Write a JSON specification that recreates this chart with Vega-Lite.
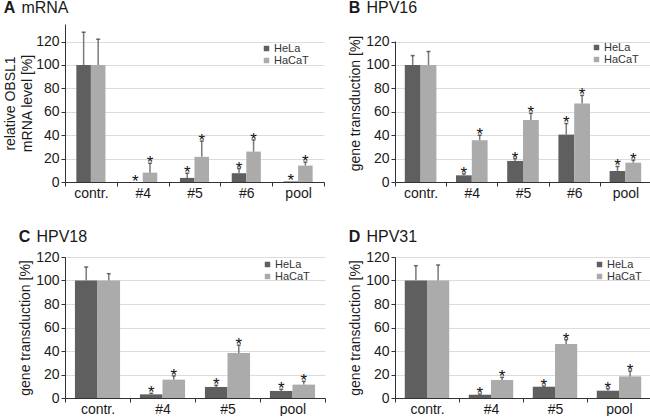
{
  "$schema": "https://vega.github.io/schema/vega-lite/v6.json",
  "background": "white",
  "padding": {"left": 3, "top": 0, "right": 0, "bottom": 0},
  "config": {
    "font": "Liberation Sans",
    "view": {"stroke": null},
    "title": {"anchor": "start", "fontSize": 16, "fontWeight": "bold", "color": "#1a1a1a", "subtitleFontSize": 16, "subtitleColor": "#1a1a1a", "subtitleFontWeight": "normal", "subtitlePadding": -16, "offset": 8}
  },
  "datasets": {
    "A": [
      {"cat": "contr.", "cell": "HeLa", "value": 100, "upper": 128, "star": false},
      {"cat": "contr.", "cell": "HaCaT", "value": 100, "upper": 122, "star": false},
      {"cat": "#4", "cell": "HeLa", "value": 0, "upper": 0, "star": true},
      {"cat": "#4", "cell": "HaCaT", "value": 8, "upper": 16, "star": true},
      {"cat": "#5", "cell": "HeLa", "value": 3.5, "upper": 7.5, "star": true},
      {"cat": "#5", "cell": "HaCaT", "value": 21.5, "upper": 35, "star": true},
      {"cat": "#6", "cell": "HeLa", "value": 7.5, "upper": 11.5, "star": true},
      {"cat": "#6", "cell": "HaCaT", "value": 26, "upper": 36, "star": true},
      {"cat": "pool", "cell": "HeLa", "value": 0.5, "upper": 0.5, "star": true},
      {"cat": "pool", "cell": "HaCaT", "value": 14, "upper": 17, "star": true}
    ],
    "B": [
      {"cat": "contr.", "cell": "HeLa", "value": 100, "upper": 108, "star": false},
      {"cat": "contr.", "cell": "HaCaT", "value": 100, "upper": 111.5, "star": false},
      {"cat": "#4", "cell": "HeLa", "value": 5.7, "upper": 7, "star": true},
      {"cat": "#4", "cell": "HaCaT", "value": 35.7, "upper": 40, "star": true},
      {"cat": "#5", "cell": "HeLa", "value": 18, "upper": 20, "star": true},
      {"cat": "#5", "cell": "HaCaT", "value": 53, "upper": 58.7, "star": true},
      {"cat": "#6", "cell": "HeLa", "value": 40.5, "upper": 50, "star": true},
      {"cat": "#6", "cell": "HaCaT", "value": 67, "upper": 74, "star": true},
      {"cat": "pool", "cell": "HeLa", "value": 9.4, "upper": 13.3, "star": true},
      {"cat": "pool", "cell": "HaCaT", "value": 16.5, "upper": 18.7, "star": true}
    ],
    "C": [
      {"cat": "contr.", "cell": "HeLa", "value": 100, "upper": 111.5, "star": false},
      {"cat": "contr.", "cell": "HaCaT", "value": 100, "upper": 105.8, "star": false},
      {"cat": "#4", "cell": "HeLa", "value": 3.1, "upper": 4, "star": true},
      {"cat": "#4", "cell": "HaCaT", "value": 15.6, "upper": 18.8, "star": true},
      {"cat": "#5", "cell": "HeLa", "value": 9.4, "upper": 10.8, "star": true},
      {"cat": "#5", "cell": "HaCaT", "value": 38.4, "upper": 45, "star": true},
      {"cat": "pool", "cell": "HeLa", "value": 6, "upper": 7.4, "star": true},
      {"cat": "pool", "cell": "HaCaT", "value": 11.4, "upper": 14.2, "star": true}
    ],
    "D": [
      {"cat": "contr.", "cell": "HeLa", "value": 100, "upper": 112.6, "star": false},
      {"cat": "contr.", "cell": "HaCaT", "value": 100, "upper": 113.2, "star": false},
      {"cat": "#4", "cell": "HeLa", "value": 2.8, "upper": 3.4, "star": true},
      {"cat": "#4", "cell": "HaCaT", "value": 15.3, "upper": 17.6, "star": true},
      {"cat": "#5", "cell": "HeLa", "value": 9.6, "upper": 10.2, "star": true},
      {"cat": "#5", "cell": "HaCaT", "value": 46, "upper": 49.6, "star": true},
      {"cat": "pool", "cell": "HeLa", "value": 6.2, "upper": 7.9, "star": true},
      {"cat": "pool", "cell": "HaCaT", "value": 18.4, "upper": 23, "star": true}
    ]
  },
  "columns": 2,
  "spacing": {"row": 29, "column": 22},
  "resolve": {"scale": {"color": "independent", "x": "independent", "y": "independent", "xOffset": "independent"}},
  "concat": [
    {
      "width": 259, "height": 158,
      "title": {"text": "A", "subtitle": "\u200b\u00a0\u00a0\u00a0\u00a0mRNA"},
      "data": {"name": "A"},
      "encoding": {
        "x": {"field": "cat", "type": "nominal", "scale": {"domain": ["contr.", "#4", "#5", "#6", "pool"], "paddingInner": 0, "paddingOuter": 0}, "axis": {"title": null, "labelAngle": 0, "tickBand": "extent", "tickSize": 4, "labelPadding": 0, "grid": false, "labelFontSize": 14, "labelColor": "#1a1a1a", "domainColor": "#333333", "tickColor": "#333333"}},
        "xOffset": {"field": "cell", "type": "nominal", "scale": {"domain": ["HeLa", "HaCaT"], "paddingInner": 0, "paddingOuter": 0.78}},
        "y": {"field": "value", "type": "quantitative", "stack": null, "scale": {"domain": [0, 135], "nice": false}, "axis": {"values": [0, 20, 40, 60, 80, 100, 120], "labelOverlap": false, "labelFontSize": 14, "titleFontSize": 14, "titleFontWeight": "normal", "labelColor": "#1a1a1a", "titleColor": "#1a1a1a", "domainColor": "#333333", "tickColor": "#333333", "grid": true, "gridColor": "#dcdcdc", "tickSize": 4, "labelPadding": 2, "title": ["relative OBSL1", "mRNA level [%]"], "titlePadding": 1, "titleLineHeight": 17}}
      },
      "layer": [
        {"mark": {"type": "bar"}, "encoding": {
          "color": {"field": "cell", "type": "nominal", "scale": {"domain": ["HeLa", "HaCaT"], "range": ["#5f5f5f", "#ababab"]}, "legend": {"orient": "none", "legendX": 196, "legendY": 19, "title": null, "symbolType": "square", "symbolSize": 30, "rowPadding": 0, "symbolStrokeWidth": 0, "labelOffset": 2, "padding": 0, "labelFontSize": 11, "labelColor": "#333333"}}
        }},
        {"transform": [{"filter": "datum.upper > datum.value"}], "mark": {"type": "rule", "color": "#7a7a7a", "strokeWidth": 1.5}, "encoding": {"y2": {"field": "upper"}}},
        {"transform": [{"filter": "datum.upper > datum.value"}], "mark": {"type": "tick", "color": "#333333", "size": 4, "thickness": 1.5}, "encoding": {"y": {"field": "upper", "type": "quantitative", "axis": {"values": [0, 20, 40, 60, 80, 100, 120], "labelOverlap": false, "labelFontSize": 14, "titleFontSize": 14, "titleFontWeight": "normal", "labelColor": "#1a1a1a", "titleColor": "#1a1a1a", "domainColor": "#333333", "tickColor": "#333333", "grid": true, "gridColor": "#dcdcdc", "tickSize": 4, "labelPadding": 2, "title": ["relative OBSL1", "mRNA level [%]"], "titlePadding": 1, "titleLineHeight": 17}}}},
        {"transform": [{"filter": "datum.star"}], "mark": {"type": "text", "text": "*", "fontSize": 17, "dy": 5, "baseline": "alphabetic", "color": "#111111"}, "encoding": {"y": {"field": "upper", "type": "quantitative", "axis": {"values": [0, 20, 40, 60, 80, 100, 120], "labelOverlap": false, "labelFontSize": 14, "titleFontSize": 14, "titleFontWeight": "normal", "labelColor": "#1a1a1a", "titleColor": "#1a1a1a", "domainColor": "#333333", "tickColor": "#333333", "grid": true, "gridColor": "#dcdcdc", "tickSize": 4, "labelPadding": 2, "title": ["relative OBSL1", "mRNA level [%]"], "titlePadding": 1, "titleLineHeight": 17}}}}
      ]
    },
    {
      "width": 256, "height": 158,
      "title": {"text": "B", "subtitle": "\u200b\u00a0\u00a0\u00a0\u00a0HPV16"},
      "data": {"name": "B"},
      "encoding": {
        "x": {"field": "cat", "type": "nominal", "scale": {"domain": ["contr.", "#4", "#5", "#6", "pool"], "paddingInner": 0, "paddingOuter": 0}, "axis": {"title": null, "labelAngle": 0, "tickBand": "extent", "tickSize": 4, "labelPadding": 0, "grid": false, "labelFontSize": 14, "labelColor": "#1a1a1a", "domainColor": "#333333", "tickColor": "#333333"}},
        "xOffset": {"field": "cell", "type": "nominal", "scale": {"domain": ["HeLa", "HaCaT"], "paddingInner": 0, "paddingOuter": 0.62}},
        "y": {"field": "value", "type": "quantitative", "stack": null, "scale": {"domain": [0, 135], "nice": false}, "axis": {"values": [0, 20, 40, 60, 80, 100, 120], "labelOverlap": false, "labelFontSize": 14, "titleFontSize": 14, "titleFontWeight": "normal", "labelColor": "#1a1a1a", "titleColor": "#1a1a1a", "domain": false, "tickColor": "#333333", "grid": true, "gridColor": "#dcdcdc", "tickSize": 4, "labelPadding": 2, "title": "gene transduction [%]", "titlePadding": 3}}
      },
      "layer": [
        {"mark": {"type": "bar"}, "encoding": {
          "color": {"field": "cell", "type": "nominal", "scale": {"domain": ["HeLa", "HaCaT"], "range": ["#5f5f5f", "#ababab"]}, "legend": {"orient": "none", "legendX": 196, "legendY": 18, "title": null, "symbolType": "square", "symbolSize": 30, "rowPadding": 0, "symbolStrokeWidth": 0, "labelOffset": 2, "padding": 0, "labelFontSize": 11, "labelColor": "#333333"}}
        }},
        {"transform": [{"filter": "datum.upper > datum.value"}], "mark": {"type": "rule", "color": "#7a7a7a", "strokeWidth": 1.5}, "encoding": {"y2": {"field": "upper"}}},
        {"transform": [{"filter": "datum.upper > datum.value"}], "mark": {"type": "tick", "color": "#333333", "size": 4, "thickness": 1.5}, "encoding": {"y": {"field": "upper", "type": "quantitative", "axis": {"values": [0, 20, 40, 60, 80, 100, 120], "labelOverlap": false, "labelFontSize": 14, "titleFontSize": 14, "titleFontWeight": "normal", "labelColor": "#1a1a1a", "titleColor": "#1a1a1a", "domain": false, "tickColor": "#333333", "grid": true, "gridColor": "#dcdcdc", "tickSize": 4, "labelPadding": 2, "title": "gene transduction [%]", "titlePadding": 3}}}},
        {"transform": [{"filter": "datum.star"}], "mark": {"type": "text", "text": "*", "fontSize": 17, "dy": 5, "baseline": "alphabetic", "color": "#111111"}, "encoding": {"y": {"field": "upper", "type": "quantitative", "axis": {"values": [0, 20, 40, 60, 80, 100, 120], "labelOverlap": false, "labelFontSize": 14, "titleFontSize": 14, "titleFontWeight": "normal", "labelColor": "#1a1a1a", "titleColor": "#1a1a1a", "domain": false, "tickColor": "#333333", "grid": true, "gridColor": "#dcdcdc", "tickSize": 4, "labelPadding": 2, "title": "gene transduction [%]", "titlePadding": 3}}}},
        {"data": {"values": [{"cat": "contr.", "value": 0, "hi": 120}]}, "mark": {"type": "rule", "color": "#333333", "strokeWidth": 1, "xOffset": 0.5}, "encoding": {"x": {"field": "cat", "type": "nominal", "bandPosition": 0}, "xOffset": null, "y2": {"field": "hi"}}}
      ]
    },
    {
      "width": 260, "height": 141,
      "title": {"text": "C", "subtitle": "\u200b\u00a0\u00a0\u00a0\u00a0HPV18", "offset": 5},
      "data": {"name": "C"},
      "encoding": {
        "x": {"field": "cat", "type": "nominal", "scale": {"domain": ["contr.", "#4", "#5", "pool"], "paddingInner": 0, "paddingOuter": 0}, "axis": {"title": null, "labelAngle": 0, "tickBand": "extent", "tickSize": 4, "labelPadding": 0, "grid": false, "labelFontSize": 14, "labelColor": "#1a1a1a", "domainColor": "#333333", "tickColor": "#333333"}},
        "xOffset": {"field": "cell", "type": "nominal", "scale": {"domain": ["HeLa", "HaCaT"], "paddingInner": 0, "paddingOuter": 0.44}},
        "y": {"field": "value", "type": "quantitative", "stack": null, "scale": {"domain": [0, 120], "nice": false}, "axis": {"values": [0, 20, 40, 60, 80, 100, 120], "labelOverlap": false, "labelFontSize": 14, "titleFontSize": 14, "titleFontWeight": "normal", "labelColor": "#1a1a1a", "titleColor": "#1a1a1a", "domainColor": "#333333", "tickColor": "#333333", "grid": true, "gridColor": "#dcdcdc", "tickSize": 4, "labelPadding": 2, "title": "gene transduction [%]", "titlePadding": 3}}
      },
      "layer": [
        {"mark": {"type": "bar"}, "encoding": {
          "color": {"field": "cell", "type": "nominal", "scale": {"domain": ["HeLa", "HaCaT"], "range": ["#5f5f5f", "#ababab"]}, "legend": {"orient": "none", "legendX": 197, "legendY": 2, "title": null, "symbolType": "square", "symbolSize": 30, "rowPadding": 0, "symbolStrokeWidth": 0, "labelOffset": 2, "padding": 0, "labelFontSize": 11, "labelColor": "#333333"}}
        }},
        {"transform": [{"filter": "datum.upper > datum.value"}], "mark": {"type": "rule", "color": "#7a7a7a", "strokeWidth": 1.5}, "encoding": {"y2": {"field": "upper"}}},
        {"transform": [{"filter": "datum.upper > datum.value"}], "mark": {"type": "tick", "color": "#333333", "size": 4, "thickness": 1.5}, "encoding": {"y": {"field": "upper", "type": "quantitative", "axis": {"values": [0, 20, 40, 60, 80, 100, 120], "labelOverlap": false, "labelFontSize": 14, "titleFontSize": 14, "titleFontWeight": "normal", "labelColor": "#1a1a1a", "titleColor": "#1a1a1a", "domainColor": "#333333", "tickColor": "#333333", "grid": true, "gridColor": "#dcdcdc", "tickSize": 4, "labelPadding": 2, "title": "gene transduction [%]", "titlePadding": 3}}}},
        {"transform": [{"filter": "datum.star"}], "mark": {"type": "text", "text": "*", "fontSize": 17, "dy": 5, "baseline": "alphabetic", "color": "#111111"}, "encoding": {"y": {"field": "upper", "type": "quantitative", "axis": {"values": [0, 20, 40, 60, 80, 100, 120], "labelOverlap": false, "labelFontSize": 14, "titleFontSize": 14, "titleFontWeight": "normal", "labelColor": "#1a1a1a", "titleColor": "#1a1a1a", "domainColor": "#333333", "tickColor": "#333333", "grid": true, "gridColor": "#dcdcdc", "tickSize": 4, "labelPadding": 2, "title": "gene transduction [%]", "titlePadding": 3}}}}
      ]
    },
    {
      "width": 256, "height": 141,
      "title": {"text": "D", "subtitle": "\u200b\u00a0\u00a0\u00a0\u00a0HPV31", "offset": 5},
      "data": {"name": "D"},
      "encoding": {
        "x": {"field": "cat", "type": "nominal", "scale": {"domain": ["contr.", "#4", "#5", "pool"], "paddingInner": 0, "paddingOuter": 0}, "axis": {"title": null, "labelAngle": 0, "tickBand": "extent", "tickSize": 4, "labelPadding": 0, "grid": false, "labelFontSize": 14, "labelColor": "#1a1a1a", "domainColor": "#333333", "tickColor": "#333333"}},
        "xOffset": {"field": "cell", "type": "nominal", "scale": {"domain": ["HeLa", "HaCaT"], "paddingInner": 0, "paddingOuter": 0.44}},
        "y": {"field": "value", "type": "quantitative", "stack": null, "scale": {"domain": [0, 120], "nice": false}, "axis": {"values": [0, 20, 40, 60, 80, 100, 120], "labelOverlap": false, "labelFontSize": 14, "titleFontSize": 14, "titleFontWeight": "normal", "labelColor": "#1a1a1a", "titleColor": "#1a1a1a", "domainColor": "#333333", "tickColor": "#333333", "grid": true, "gridColor": "#dcdcdc", "tickSize": 4, "labelPadding": 2, "title": "gene transduction [%]", "titlePadding": 3}}
      },
      "layer": [
        {"mark": {"type": "bar"}, "encoding": {
          "color": {"field": "cell", "type": "nominal", "scale": {"domain": ["HeLa", "HaCaT"], "range": ["#5f5f5f", "#ababab"]}, "legend": {"orient": "none", "legendX": 199, "legendY": 2, "title": null, "symbolType": "square", "symbolSize": 30, "rowPadding": 0, "symbolStrokeWidth": 0, "labelOffset": 2, "padding": 0, "labelFontSize": 11, "labelColor": "#333333"}}
        }},
        {"transform": [{"filter": "datum.upper > datum.value"}], "mark": {"type": "rule", "color": "#7a7a7a", "strokeWidth": 1.5}, "encoding": {"y2": {"field": "upper"}}},
        {"transform": [{"filter": "datum.upper > datum.value"}], "mark": {"type": "tick", "color": "#333333", "size": 4, "thickness": 1.5}, "encoding": {"y": {"field": "upper", "type": "quantitative", "axis": {"values": [0, 20, 40, 60, 80, 100, 120], "labelOverlap": false, "labelFontSize": 14, "titleFontSize": 14, "titleFontWeight": "normal", "labelColor": "#1a1a1a", "titleColor": "#1a1a1a", "domainColor": "#333333", "tickColor": "#333333", "grid": true, "gridColor": "#dcdcdc", "tickSize": 4, "labelPadding": 2, "title": "gene transduction [%]", "titlePadding": 3}}}},
        {"transform": [{"filter": "datum.star"}], "mark": {"type": "text", "text": "*", "fontSize": 17, "dy": 5, "baseline": "alphabetic", "color": "#111111"}, "encoding": {"y": {"field": "upper", "type": "quantitative", "axis": {"values": [0, 20, 40, 60, 80, 100, 120], "labelOverlap": false, "labelFontSize": 14, "titleFontSize": 14, "titleFontWeight": "normal", "labelColor": "#1a1a1a", "titleColor": "#1a1a1a", "domainColor": "#333333", "tickColor": "#333333", "grid": true, "gridColor": "#dcdcdc", "tickSize": 4, "labelPadding": 2, "title": "gene transduction [%]", "titlePadding": 3}}}}
      ]
    }
  ]
}
